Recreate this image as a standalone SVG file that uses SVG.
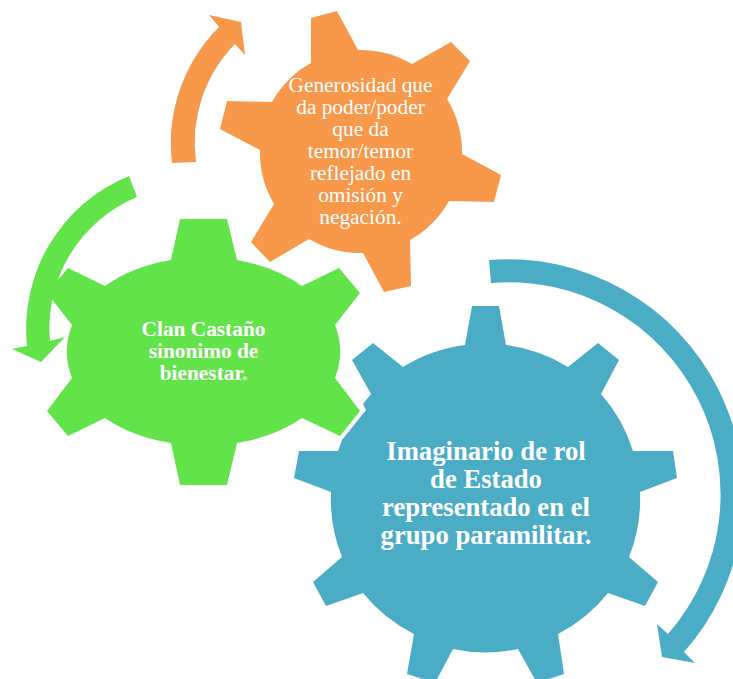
<svg xmlns="http://www.w3.org/2000/svg" width="733" height="679" viewBox="0 0 733 679">
<style>
.o{fill:#F8984A}.g{fill:#62E34A}.b{fill:#4BACC6}
text{fill:#fff;font-family:"Liberation Serif","Times New Roman",serif;text-anchor:middle}
.t1{font-size:21.33px}.t2{font-size:21.33px;font-weight:bold}.t3{font-size:26.67px;font-weight:bold}
</style>
<rect width="733" height="679" fill="#fff"/>
<g id="connectors">
<path class="o" d="M172 163A165 165 0 0 1 219 27L209 15L241 22L245 55L235 44A141 141 0 0 0 196 162Z"/>
<path class="g" d="M129 176L137 197A142 142 0 0 0 50 341L65 337L41 362L12 349L27 346A165 165 0 0 1 129 176Z"/>
<path class="b" d="M489 260A236 236 0 0 1 684 652L695 663L662 657L657 624L668 634A212 212 0 0 0 491 283Z"/>
</g>
<g id="node-orange">
<path class="o" d="M311 18L337 11L358 50A101 101 0 0 1 412 64L451 42L470 61L447 99A101 101 0 0 1 462 154L501 175L494 202L449 201A101 101 0 0 1 410 240L411 286L384 292L363 253A101 101 0 0 1 309 239L270 262L251 242L274 204A101 101 0 0 1 260 150L220 129L227 101L272 102A101 101 0 0 1 311 63Z"/>
<text class="t1" x="360.500" y="92">Generosidad que</text>
<text class="t1" x="360.500" y="114">da poder/poder</text>
<text class="t1" x="360.500" y="136">que da</text>
<text class="t1" x="360.500" y="158">temor/temor</text>
<text class="t1" x="360.500" y="180">reflejado en</text>
<text class="t1" x="360.500" y="202">omisión y</text>
<text class="t1" x="360.500" y="224">negación.</text>
</g>
<g id="node-blue">
<path class="b" d="M472 306L499 306L506 345A155 155 0 0 1 568 367L598 343L619 360L601 394A155 155 0 0 1 633 451L673 451L677 478L640 492A155 155 0 0 1 629 557L658 582L645 606L608 593A155 155 0 0 1 558 634L564 674L537 683L518 649A155 155 0 0 1 453 649L435 683L407 674L414 634A155 155 0 0 1 363 593L326 606L313 582L342 557A155 155 0 0 1 331 492L294 478L299 451L338 451L342 440L366 410L363 404L371 394L352 360L373 343L403 367A155 155 0 0 1 465 345Z"/>
<text class="t3" x="486" y="460">Imaginario de rol</text>
<text class="t3" x="486" y="488">de Estado</text>
<text class="t3" x="486" y="516">representado en el</text>
<text class="t3" x="486" y="544">grupo paramilitar.</text>
</g>
<g id="node-green">
<path class="g" d="M180 219L227 219L237 260A136 92 0 0 1 302 286L339 268L360 293L335 325A73 73 0 0 1 335 378L360 411L340 436L302 418A136 92 0 0 1 237 443L227 485L180 485L171 443A136 92 0 0 1 105 418L68 436L47 411L72 378A73 73 0 0 1 72 325L47 293L68 268L105 286A136 92 0 0 1 171 260Z"/>
<text class="t2" x="203.500" y="336">Clan Castaño</text>
<text class="t2" x="203.500" y="358">sinonimo de</text>
<text class="t2" x="203.500" y="380">bienestar.</text>
</g>
</svg>
